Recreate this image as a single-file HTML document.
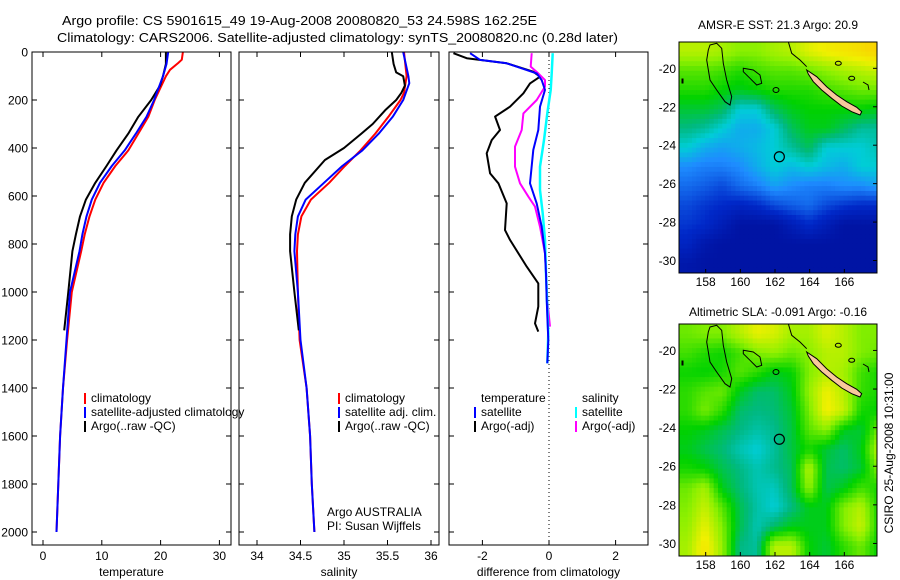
<!DOCTYPE html>
<html><head><meta charset="utf-8"><style>
html,body{margin:0;padding:0;background:#fff;}
svg{display:block;font-family:"Liberation Sans",sans-serif;}
</style></head><body>
<svg id="fig" width="900" height="580" viewBox="0 0 900 580" xmlns="http://www.w3.org/2000/svg">
<rect width="900" height="580" fill="#fff"/>
<text x="62" y="25" font-size="13" textLength="475" lengthAdjust="spacingAndGlyphs">Argo profile: CS 5901615_49 19-Aug-2008 20080820_53 24.598S 162.25E</text>
<text x="57" y="42" font-size="13" textLength="561" lengthAdjust="spacingAndGlyphs">Climatology: CARS2006. Satellite-adjusted climatology: synTS_20080820.nc (0.28d later)</text>
<g id="plots"></g>
</svg>
<script>
// ---- data ----
const tickDepths=[0,200,400,600,800,1000,1200,1400,1600,1800,2000];
const tempTicks=[0,10,20,30];
const salTicks=[34,34.5,35,35.5,36];
const diffTicks=[-2,0,2];
const tempClimDepth=[0,32,46,74,101,200,270,340,410,475,545,615,685,760,830,1000,1200,1400,1600,1800,2000];
const tempClimVal=[23.8,23.6,23.0,21.6,20.9,19.0,17.9,16.2,14.5,12.3,10.3,8.9,7.9,7.1,6.5,4.9,4.1,3.4,2.9,2.6,2.3];
const tempSatDepth=[0,50,101,200,270,340,410,475,545,615,685,760,830,1000,1200,1400,1600,1800,2000];
const tempSatVal=[21.3,21.0,20.4,18.9,17.6,15.8,13.9,11.7,9.7,8.3,7.4,6.7,6.2,4.6,4.0,3.4,2.9,2.6,2.3];
const tempArgoDepth=[0,50,101,140,200,270,340,410,475,545,615,685,760,830,1000,1160];
const tempArgoVal=[20.9,20.9,20.4,19.9,18.4,16.2,14.5,12.5,10.8,8.9,7.3,6.3,5.6,5.0,4.3,3.6];
const salClimDepth=[0,101,170,200,270,340,410,475,545,615,685,760,830,1000,1200,1400,1600,1800,2000];
const salClimVal=[35.69,35.72,35.69,35.65,35.51,35.36,35.19,35.01,34.83,34.62,34.51,34.47,34.46,34.47,34.49,34.57,34.61,34.63,34.66];
const salSatDepth=[0,101,130,200,270,340,410,475,545,615,685,760,830,1000,1200,1400,1600,1800,2000];
const salSatVal=[35.68,35.74,35.75,35.68,35.56,35.40,35.21,34.98,34.77,34.56,34.47,34.44,34.43,34.47,34.50,34.57,34.61,34.63,34.66];
const salArgoDepth=[0,50,85,101,140,170,200,240,300,340,400,450,545,615,685,760,830,1000,1160];
const salArgoVal=[35.55,35.57,35.60,35.68,35.70,35.66,35.60,35.48,35.33,35.20,35.00,34.78,34.55,34.45,34.40,34.38,34.38,34.43,34.48];
const dTArgoDepth=[5,26,47,82,103,131,172,228,269,325,367,422,506,547,631,742,783,894,964,1061,1131,1165];
const dTArgoVal=[-2.87,-2.47,-1.27,-0.47,-0.27,-0.57,-0.77,-1.17,-1.62,-1.47,-1.72,-1.87,-1.77,-1.52,-1.27,-1.32,-1.17,-0.67,-0.32,-0.32,-0.42,-0.32];
const dTSatDepth=[5,33,47,89,117,158,228,325,408,547,631,728,839,922,1033,1200,1297];
const dTSatVal=[-2.37,-2.07,-1.27,-0.37,-0.22,-0.12,-0.27,-0.32,-0.47,-0.57,-0.37,-0.22,-0.12,-0.09,-0.07,-0.02,-0.05];
const dSArgoDepth=[5,61,89,117,144,200,256,325,394,478,547,603,644,728,839,922,1033,1144];
const dSArgoVal=[-0.52,-0.55,-0.32,-0.12,-0.12,-0.37,-0.77,-0.82,-1.02,-1.02,-0.87,-0.62,-0.42,-0.27,-0.12,-0.09,-0.05,0.03];
const dSSatDepth=[5,89,158,256,367,478,575,672,783,922,1061,1172,1297];
const dSSatVal=[0.11,0.08,0.05,-0.05,-0.15,-0.27,-0.27,-0.19,-0.12,-0.09,-0.05,-0.02,-0.05];
const lonTicks=[158,160,162,164,166];
const latTicks=[-20,-22,-24,-26,-28,-30];
const sstGrid=[
[0.80,0.80,0.78,0.75,0.75,0.78,0.80,0.85,0.88,0.90,0.92,0.95],
[0.70,0.70,0.68,0.65,0.68,0.70,0.70,0.72,0.75,0.78,0.80,0.82],
[0.65,0.65,0.62,0.60,0.62,0.65,0.65,0.65,0.68,0.70,0.72,0.72],
[0.58,0.58,0.55,0.45,0.45,0.55,0.60,0.62,0.62,0.62,0.62,0.60],
[0.52,0.50,0.45,0.40,0.40,0.45,0.55,0.60,0.60,0.55,0.50,0.50],
[0.45,0.40,0.38,0.40,0.42,0.45,0.50,0.55,0.45,0.45,0.45,0.48],
[0.35,0.33,0.33,0.35,0.40,0.45,0.42,0.45,0.42,0.40,0.45,0.45],
[0.30,0.28,0.25,0.30,0.33,0.38,0.35,0.33,0.33,0.35,0.35,0.38],
[0.25,0.22,0.20,0.18,0.20,0.25,0.28,0.30,0.25,0.22,0.20,0.20],
[0.22,0.20,0.15,0.10,0.10,0.10,0.15,0.20,0.15,0.10,0.10,0.10],
[0.18,0.12,0.10,0.10,0.10,0.10,0.10,0.10,0.10,0.10,0.10,0.10],
[0.12,0.10,0.10,0.10,0.10,0.10,0.10,0.10,0.10,0.10,0.10,0.10]];
const slaGrid=[
[0.72,0.74,0.74,0.80,0.86,0.84,0.78,0.78,0.84,0.80,0.74,0.74],
[0.68,0.65,0.63,0.68,0.74,0.76,0.72,0.75,0.80,0.80,0.74,0.72],
[0.63,0.62,0.64,0.70,0.66,0.60,0.62,0.74,0.80,0.78,0.68,0.64],
[0.66,0.70,0.72,0.60,0.54,0.54,0.60,0.76,0.87,0.80,0.67,0.64],
[0.66,0.73,0.66,0.54,0.52,0.53,0.58,0.73,0.88,0.82,0.64,0.62],
[0.62,0.60,0.56,0.52,0.49,0.51,0.57,0.70,0.75,0.60,0.58,0.72],
[0.60,0.56,0.53,0.48,0.45,0.50,0.57,0.64,0.58,0.54,0.60,0.80],
[0.64,0.62,0.56,0.52,0.48,0.51,0.55,0.80,0.56,0.54,0.58,0.74],
[0.72,0.78,0.60,0.53,0.48,0.47,0.55,0.76,0.56,0.60,0.68,0.64],
[0.74,0.82,0.70,0.56,0.49,0.45,0.52,0.60,0.60,0.74,0.80,0.64],
[0.76,0.86,0.74,0.56,0.48,0.54,0.60,0.60,0.60,0.74,0.82,0.64],
[0.78,0.90,0.76,0.52,0.50,0.80,0.80,0.62,0.58,0.66,0.72,0.62]];
const gridLon0=156.46, gridLat0=-18.63;
const profLon=162.25, profLat=-24.6;

// ---- drawing ----
const NS='http://www.w3.org/2000/svg';
const root=document.getElementById('plots');
function mk(tag,attrs,parent){const e=document.createElementNS(NS,tag);for(const k in attrs)e.setAttribute(k,attrs[k]);(parent||root).appendChild(e);return e;}
const Y0=52,Y1=545;
const yD=d=>Y0+d*0.24;
const panels=[
 {x0:32,x1:231,sx:v=>43+v*5.88,ticks:tempTicks,label:'temperature',name:'temperature-panel'},
 {x0:239,x1:439,sx:v=>257+(v-34)*87,ticks:salTicks,label:'salinity',name:'salinity-panel'},
 {x0:449,x1:648,sx:v=>549+v*33.3,ticks:diffTicks,label:'difference from climatology',name:'difference-panel'}];
function line(depths,vals,sx,color,w,name,g){
 const pts=depths.map((d,i)=>sx(vals[i]).toFixed(1)+','+yD(d).toFixed(1)).join(' ');
 const p=mk('polyline',{points:pts,fill:'none',stroke:color,'stroke-width':w,'stroke-linejoin':'round'},g);
 
 
}
panels.forEach((P,pi)=>{
 const g=mk('g',{});
 
 
 if(pi===2){const z=mk('line',{x1:P.sx(0),x2:P.sx(0),y1:Y0,y2:Y1,stroke:'#000','stroke-width':1,'stroke-dasharray':'1,3'},g);
  
  }
 tickDepths.forEach(d=>{const y=yD(d);
  mk('line',{x1:P.x0,x2:P.x0+5,y1:y,y2:y,stroke:'#000'},g);
  mk('line',{x1:P.x1-5,x2:P.x1,y1:y,y2:y,stroke:'#000'},g);
  if(pi===0){const t=mk('text',{x:28,y:y+4.5,'font-size':12,'text-anchor':'end'},g);t.textContent=d;
   
   }
 });
 P.ticks.forEach(v=>{const x=P.sx(v);
  mk('line',{x1:x,x2:x,y1:Y1,y2:Y1-5,stroke:'#000'},g);
  mk('line',{x1:x,x2:x,y1:Y0,y2:Y0+5,stroke:'#000'},g);
  const t=mk('text',{x:x,y:560,'font-size':12,'text-anchor':'middle'},g);t.textContent=v;
  
  
 });
 const xl=mk('text',{x:(P.x0+P.x1)/2,y:576,'font-size':12,'text-anchor':'middle'},g);xl.textContent=P.label;
 
 
 P.g=g;
});
const [p1,p2,p3]=panels;
line(tempClimDepth,tempClimVal,p1.sx,'#f00',2,'temp-climatology-line',p1.g);
line(tempArgoDepth,tempArgoVal,p1.sx,'#000',2,'temp-argo-line',p1.g);
line(tempSatDepth,tempSatVal,p1.sx,'#00f',2,'temp-satellite-line',p1.g);
line(salClimDepth,salClimVal,p2.sx,'#f00',2,'sal-climatology-line',p2.g);
line(salArgoDepth,salArgoVal,p2.sx,'#000',2,'sal-argo-line',p2.g);
line(salSatDepth,salSatVal,p2.sx,'#00f',2,'sal-satellite-line',p2.g);
line(dTArgoDepth,dTArgoVal,p3.sx,'#000',2,'temp-argo-diff-line',p3.g);
line(dSArgoDepth,dSArgoVal,p3.sx,'#f0f',2,'sal-argo-diff-line',p3.g);
line(dSSatDepth,dSSatVal,p3.sx,'#0ff',2.5,'sal-satellite-diff-line',p3.g);
line(dTSatDepth,dTSatVal,p3.sx,'#00f',2,'temp-satellite-diff-line',p3.g);
panels.forEach(P=>{const r=mk('rect',{x:P.x0,y:Y0,width:P.x1-P.x0,height:Y1-Y0,fill:'none',stroke:'#000'},P.g);
 
 });
function legend(g,x,y,items){items.forEach((it,i)=>{
 mk('rect',{x:x,y:y+i*14-9,width:2,height:11,fill:it[1]},g);
 const t=mk('text',{x:x+7,y:y+i*14,'font-size':12},g);t.textContent=it[0];
 
 });}
legend(p1.g,84,402,[['climatology','#f00'],['satellite-adjusted climatology','#00f'],['Argo(..raw -QC)','#000']]);
legend(p2.g,338,402,[['climatology','#f00'],['satellite adj. clim.','#00f'],['Argo(..raw -QC)','#000']]);
{const t=mk('text',{x:481,y:402,'font-size':12},p3.g);t.textContent='temperature';
 
 
 const s=mk('text',{x:582,y:402,'font-size':12},p3.g);s.textContent='salinity';
 
 }
legend(p3.g,474,416,[['satellite','#00f'],['Argo(-adj)','#000']]);
legend(p3.g,575,416,[['satellite','#0ff'],['Argo(-adj)','#f0f']]);
{const a=mk('text',{x:327,y:516,'font-size':12},p2.g);a.textContent='Argo AUSTRALIA';
 
 
 const b=mk('text',{x:327,y:530,'font-size':12},p2.g);b.textContent='PI: Susan Wijffels';
 
 }

// colormap
const stops=[[0,[0,0,128]],[0.2,[0,40,200]],[0.35,[30,140,255]],[0.45,[0,205,215]],[0.52,[0,185,130]],[0.62,[0,210,0]],[0.75,[140,240,0]],[0.87,[240,240,0]],[1,[255,190,0]]];
function cmap(v){for(let i=1;i<stops.length;i++){if(v<=stops[i][0]){const a=stops[i-1],b=stops[i],t=(v-a[0])/(b[0]-a[0]);
 return 'rgb('+a[1].map((c,k)=>Math.round(c+(b[1][k]-c)*t)).join(',')+')';}}return 'rgb(255,190,0)';}
function sample(grid,fx,fy){ // bilinear between cell centres
 const nr=grid.length,nc=grid[0].length;
 let x=Math.min(Math.max(fx-0.5,0),nc-1),y=Math.min(Math.max(fy-0.5,0),nr-1);
 const i=Math.min(Math.floor(x),nc-2),j=Math.min(Math.floor(y),nr-2),tx=x-i,ty=y-j;
 return grid[j][i]*(1-tx)*(1-ty)+grid[j][i+1]*tx*(1-ty)+grid[j+1][i]*(1-tx)*ty+grid[j+1][i+1]*tx*ty;}
function drawMap(top,bottom,grid,title,name,titleY){
 const L=679,R=877,pxLon=17.33,pxLat=(bottom-top)/12.02,SUB=4;
 const lx=lon=>L+(lon-gridLon0)*pxLon, ly=lat=>top+(gridLat0-lat)*pxLat;
 const g=mk('g',{});
 
 
 const cid='clip-'+name;const cp=mk('clipPath',{id:cid},g);mk('rect',{x:L,y:top,width:R-L,height:bottom-top},cp);
 const cells=mk('g',{'clip-path':'url(#'+cid+')'},g);
 for(let j=0;j<grid.length*SUB;j++)for(let i=0;i<grid[0].length*SUB;i++){
  const v=sample(grid,(i+0.5)/SUB,(j+0.5)/SUB);
  const r=mk('rect',{x:lx(gridLon0+i/SUB).toFixed(2),y:ly(gridLat0-j/SUB).toFixed(2),width:(pxLon/SUB+0.5).toFixed(2),height:(pxLat/SUB+0.5).toFixed(2),fill:cmap(v)},cells);
  
  
 }
 const c=mk('g',{transform:'translate('+L+','+top+')',fill:'none',stroke:'#000','stroke-width':1},cells);
 
 
 mk('polygon',{points:'127.7,28 137.7,34.7 147.7,44.7 157.7,53 167.7,59.7 177.7,65.3 182.7,69.7 181,73 172.7,69.7 162.7,64 152.7,56.3 142.7,48 134.3,39.7 129.3,32',fill:'#f8c89c',stroke:'#000'},c);
 mk('polygon',{points:'31,3 37.7,1.3 42.7,6.3 44.3,21.3 47.7,38 52.7,54.7 51,63 46,59.7 37.7,48 31,38 27.7,18 29.3,8'},c);
 mk('polygon',{points:'64.3,26.3 74.3,28 81,33 82.7,41.3 77.7,43 71,36.3 64.3,29.7'},c);
 mk('polyline',{points:'109.3,-0.3 112.7,11.3 121,18 127.7,24.7'},c);
 mk('ellipse',{cx:97,cy:48,rx:3,ry:2.5},c);mk('ellipse',{cx:159.3,cy:21.3,rx:3,ry:2},c);mk('ellipse',{cx:172.7,cy:36.3,rx:3,ry:2},c);mk('polyline',{points:'184,40 189,43 190,48'},c);
 mk('rect',{x:3,y:37,width:1,height:4,fill:'#000'},c);
 const pc=mk('circle',{cx:lx(profLon),cy:ly(profLat),r:5,fill:'none',stroke:'#000','stroke-width':1.2},g);
 
 
 mk('rect',{x:L,y:top,width:R-L,height:bottom-top,fill:'none',stroke:'#000'},g);
 lonTicks.forEach(lon=>{const x=lx(lon);mk('line',{x1:x,x2:x,y1:bottom,y2:bottom-4,stroke:'#000'},g);
  const t=mk('text',{x:x,y:bottom+13,'font-size':12,'text-anchor':'middle'},g);t.textContent=lon;
  
  });
 latTicks.forEach(lat=>{const y=ly(lat);mk('line',{x1:R,x2:R-4,y1:y,y2:y,stroke:'#000'},g);
  const t=mk('text',{x:L-3,y:y+4.5,'font-size':12,'text-anchor':'end'},g);t.textContent=lat;
  
  });
 const tt=mk('text',{x:(L+R)/2,y:titleY,'font-size':12,'text-anchor':'middle'},g);tt.textContent=title;
 
 
}
drawMap(42,273,sstGrid,'AMSR-E SST: 21.3 Argo: 20.9','sst-map',29);
drawMap(324,556,slaGrid,'Altimetric SLA: -0.091 Argo: -0.16','sla-map',316);
{const t=mk('text',{x:0,y:0,'font-size':12,'text-anchor':'middle',transform:'translate(893,453) rotate(-90)'});t.textContent='CSIRO 25-Aug-2008 10:31:00';
 
 }
</script>
</body></html>
